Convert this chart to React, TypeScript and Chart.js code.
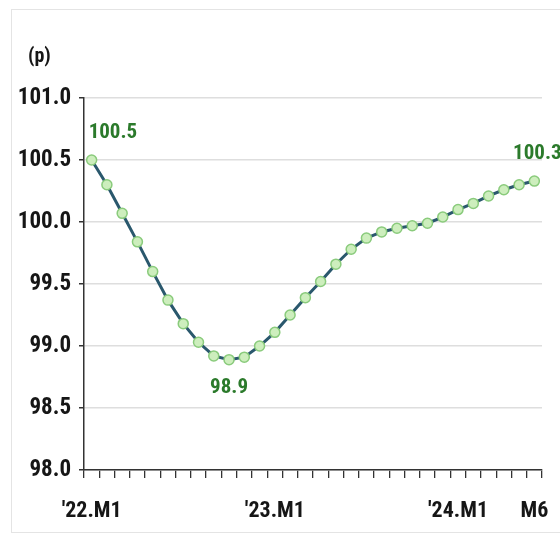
import { useEffect, useRef } from "react";
import { Chart, registerables } from "chart.js";

Chart.register(...registerables);

// Monthly index, Jan 2022 – Jun 2024
const months = [
  "'22.M1", "'22.M2", "'22.M3", "'22.M4", "'22.M5", "'22.M6",
  "'22.M7", "'22.M8", "'22.M9", "'22.M10", "'22.M11", "'22.M12",
  "'23.M1", "'23.M2", "'23.M3", "'23.M4", "'23.M5", "'23.M6",
  "'23.M7", "'23.M8", "'23.M9", "'23.M10", "'23.M11", "'23.M12",
  "'24.M1", "'24.M2", "'24.M3", "'24.M4", "'24.M5", "'24.M6",
];

const indexValues = [
  100.5, 100.3, 100.07, 99.84, 99.6, 99.37, 99.18, 99.03, 98.92, 98.89,
  98.91, 99.0, 99.11, 99.25, 99.39, 99.52, 99.66, 99.78, 99.87, 99.92,
  99.95, 99.97, 99.99, 100.04, 100.1, 100.15, 100.21, 100.26, 100.3, 100.33,
];

// Which category positions carry an x-axis label, and the text shown
const xTickIndexes = [0, 12, 24, 29];
const xTickTexts = ["'22.M1", "'23.M1", "'24.M1", "M6"];

// Points with a value label: start, trough, latest
const labelledIndexes = [0, 9, 29];

const yMin = 98;
const yMax = 101;
const yStep = 0.5;
const unitText = "(p)";

const FONT = "'Liberation Sans Narrow', 'Arial Narrow', 'Roboto Condensed', 'Liberation Sans', sans-serif";
const TEXT_DARK = "#161616";
const LABEL_GREEN = "#2b7a2b";

const valueLabels = {
  id: "valueLabels",
  afterDatasetsDraw(chart: any) {
    const ctx = chart.ctx;
    const meta = chart.getDatasetMeta(0);
    const data = chart.data.datasets[0].data as number[];
    ctx.save();
    ctx.font = `bold 21px ${FONT}`;
    ctx.fillStyle = LABEL_GREEN;
    ctx.textBaseline = "middle";
    labelledIndexes.forEach((i, k) => {
      const pt = meta.data[i];
      const text = data[i].toFixed(1);
      if (k === 0) {
        ctx.textAlign = "left";
        ctx.fillText(text, pt.x - 3, pt.y - 27);
      } else if (k === 1) {
        ctx.textAlign = "center";
        ctx.fillText(text, pt.x, pt.y + 28);
      } else {
        ctx.textAlign = "center";
        ctx.fillText(text, pt.x + 3, pt.y - 27);
      }
    });
    ctx.restore();
  },
};

const unitLabel = {
  id: "unitLabel",
  afterDraw(chart: any) {
    const ctx = chart.ctx;
    ctx.save();
    ctx.font = `bold 20px ${FONT}`;
    ctx.fillStyle = TEXT_DARK;
    ctx.textAlign = "left";
    ctx.textBaseline = "middle";
    ctx.fillText(unitText, 28, 57);
    ctx.restore();
  },
};

export default function App() {
  const canvasRef = useRef<HTMLCanvasElement | null>(null);

  useEffect(() => {
    const canvas = canvasRef.current;
    if (!canvas) return;
    const chart = new Chart(canvas, {
      type: "line",
      data: {
        labels: months,
        datasets: [
          {
            data: indexValues,
            borderColor: "#2a586d",
            borderWidth: 3,
            pointRadius: 5,
            pointBackgroundColor: "#cdeebd",
            pointBorderColor: "#8acb7c",
            pointBorderWidth: 1.5,
            tension: 0,
          },
        ],
      },
      options: {
        responsive: false,
        animation: false,
        layout: { padding: { left: 0, right: 18, top: 98, bottom: 0 } },
        plugins: {
          legend: { display: false },
          tooltip: { enabled: false },
        },
        scales: {
          x: {
            type: "category",
            offset: true,
            grid: {
              offset: true,
              drawOnChartArea: false,
              tickLength: 8,
              color: "#333",
              lineWidth: 1.3,
            },
            border: { color: "#333", width: 1.5 },
            ticks: {
              autoSkip: false,
              maxRotation: 0,
              padding: 20,
              color: TEXT_DARK,
              font: { family: FONT, size: 22, weight: "bold" },
              callback: (_v: any, i: number) => {
                const k = xTickIndexes.indexOf(i);
                return k >= 0 ? xTickTexts[k] : "";
              },
            },
            afterFit: (s: any) => {
              s.height = 63;
              s.paddingLeft = 0;
              s.paddingRight = 0;
            },
          },
          y: {
            min: yMin,
            max: yMax,
            grid: {
              color: "#dedede",
              lineWidth: 1.5,
              tickColor: "#333",
              tickLength: 5,
            },
            border: { color: "#333", width: 1.5 },
            ticks: {
              stepSize: yStep,
              padding: 8,
              color: TEXT_DARK,
              font: { family: FONT, size: 23, weight: "bold" },
              callback: (v: any) => Number(v).toFixed(1),
            },
            afterFit: (s: any) => {
              s.width = 84;
              s.paddingTop = 0;
              s.paddingBottom = 0;
            },
          },
        },
      },
      plugins: [valueLabels, unitLabel],
    });
    return () => chart.destroy();
  }, []);

  return (
    <div style={{ position: "absolute", left: 0, top: 0, width: 560, height: 533, background: "#fff", overflow: "hidden" }}>
      <div
        style={{
          position: "absolute",
          left: 11,
          top: 9,
          width: 549,
          height: 522,
          borderLeft: "1px solid #e4e4e4",
          borderTop: "1px solid #e4e4e4",
          borderBottom: "1px solid #e4e4e4",
          boxSizing: "content-box",
        }}
      />
      <canvas ref={canvasRef} width={560} height={533} style={{ position: "absolute", left: 0, top: 0 }} />
    </div>
  );
}
